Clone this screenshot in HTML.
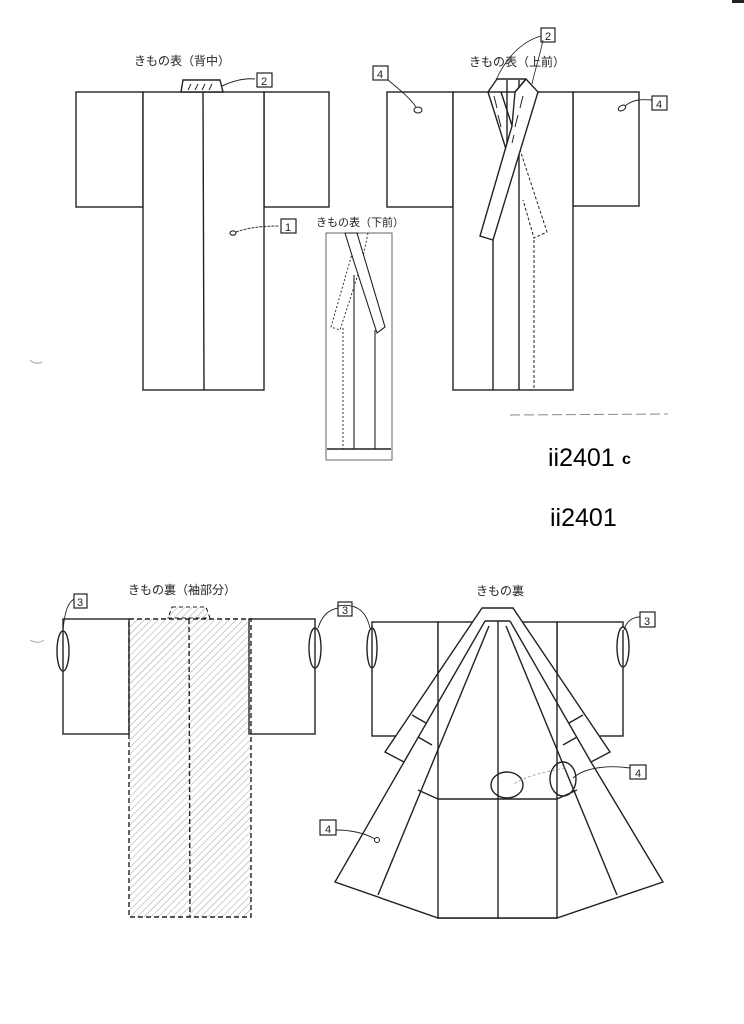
<!DOCTYPE html>
<html><head><meta charset="utf-8"><style>
html,body{margin:0;padding:0;background:#fff;}
svg{display:block;}
text{font-family:"Liberation Sans","Noto Sans CJK JP",sans-serif;fill:#222;}
</style></head><body>
<svg width="744" height="1024" viewBox="0 0 744 1024" xmlns="http://www.w3.org/2000/svg">
<defs>
<pattern id="h" width="5" height="5" patternUnits="userSpaceOnUse" patternTransform="rotate(45)">
<line x1="0" y1="0" x2="0" y2="5" stroke="#888" stroke-width="0.8"/>
</pattern>
</defs>
<g fill="none" stroke="#222" stroke-width="1.4">
<!-- Fig1 back -->
<rect x="76" y="92" width="67" height="115" fill="#fff"/>
<rect x="264" y="92" width="65" height="115" fill="#fff"/>
<rect x="143" y="92" width="121" height="298" fill="#fff"/>
<line x1="203" y1="92" x2="204" y2="390"/>
<polygon points="183,80 220,80 223,92 181,92" fill="#fff"/>
<path d="M188,90 l3,-6 M195,90 l3,-6 M202,90 l3,-6 M209,90 l3,-6" stroke-width="1"/>
<path d="M222,86 C235,80 245,78 255,79" stroke-width="1"/>
<rect x="257" y="73" width="15" height="14" stroke-width="1.2"/>
<ellipse cx="233" cy="233" rx="3" ry="2.2" stroke-width="1.1"/>
<path d="M236,232 C250,227 265,226 279,226" stroke-width="0.9" stroke-dasharray="3,1"/>
<rect x="281" y="219" width="15" height="14" stroke-width="1.2"/>

<!-- Fig2 front -->
<rect x="387" y="92" width="66" height="115" fill="#fff"/>
<rect x="573" y="92" width="66" height="114" fill="#fff"/>
<rect x="453" y="92" width="120" height="298" fill="#fff"/>
<line x1="507" y1="80" x2="507" y2="150"/>
<line x1="519" y1="80" x2="519" y2="390"/>
<line x1="493" y1="240" x2="493" y2="390"/>
<line x1="534" y1="240" x2="534" y2="390" stroke-dasharray="3,2" stroke-width="1"/>
<line x1="497" y1="79" x2="526" y2="79"/>
<path d="M501,92 L547,232 L534,238 L523,200" stroke-dasharray="3,2" stroke-width="1"/>
<path d="M488,92 L497,79 M488,92 L511,165 M501,92 L520,150"/>
<polygon points="526,79 538,92 493,240 480,236 512,126 515,92" fill="#fff"/>
<line x1="526" y1="79" x2="515" y2="92"/>
<path d="M523,96 l-3,12 M518,115 l-3,12 M514,135 l-2,8" stroke-width="1"/>
<path d="M494,96 l3,12 M498,115 l3,12" stroke-width="1"/>
<rect x="541" y="28" width="14" height="14" stroke-width="1.2"/>
<path d="M541,36 C520,42 505,60 496,80 M543,40 C540,55 535,70 532,84" stroke-width="0.8"/>
<rect x="373" y="66" width="15" height="14" stroke-width="1.2"/>
<path d="M388,80 C400,90 410,98 416,107" stroke-width="0.9"/>
<ellipse cx="418" cy="110" rx="4" ry="3" stroke-width="1.1"/>
<rect x="652" y="96" width="15" height="14" stroke-width="1.2"/>
<path d="M625,106 C632,100 640,99 652,100" stroke-width="0.9"/>
<ellipse cx="622" cy="108" rx="4" ry="2.5" stroke-width="1.1" transform="rotate(-30 622 108)"/>

<!-- Fig3 small -->
<rect x="326" y="233" width="66" height="227" stroke="#666" stroke-width="1"/>
<line x1="327" y1="449" x2="391" y2="449"/>
<line x1="354" y1="275" x2="354" y2="449" stroke-width="1.1"/>
<line x1="375" y1="330" x2="375" y2="449" stroke-width="1.1"/>
<line x1="343" y1="328" x2="343" y2="449" stroke-dasharray="2,2" stroke-width="0.9"/>
<path d="M358,233 L331,327 L340,330 L362,262 M368,233 L362,262" stroke-dasharray="2,2" stroke-width="0.9"/>
<polygon points="345,233 357,233 385,327 377,333 354,262" fill="#fff" stroke-width="1.1"/>

<!-- Fig4 back lining -->
<rect x="63" y="619" width="66" height="115"/>
<rect x="249" y="619" width="66" height="115"/>
<rect x="129" y="619" width="122" height="298" fill="url(#h)" stroke-dasharray="5,3"/>
<line x1="189" y1="619" x2="190" y2="917" stroke-dasharray="5,3"/>
<polygon points="172,607 206,607 210,618 168,618" fill="url(#h)" stroke-dasharray="4,3" stroke-width="1.1"/>
<ellipse cx="63" cy="651" rx="6" ry="20" fill="#fff"/>
<ellipse cx="315" cy="648" rx="6" ry="20" fill="#fff"/>
<line x1="63" y1="631" x2="63" y2="670"/>
<line x1="315" y1="628" x2="315" y2="667"/>
<rect x="74" y="594" width="13" height="14" stroke-width="1.2"/>
<path d="M74,599 C68,603 65,610 63,630" stroke-width="0.9"/>
<rect x="338" y="602" width="14" height="14" stroke-width="1.2"/>
<path d="M338,608 C328,610 322,616 318,628" stroke-width="0.9"/>
<path d="M30,640 C36,643 40,643 44,640" stroke="#aaa" stroke-width="1"/>
<path d="M30,360 C34,364 38,364 42,362" stroke="#aaa" stroke-width="1"/>

<!-- Fig5 lining -->
<rect x="372" y="622" width="66" height="114"/>
<rect x="557" y="622" width="66" height="114"/>
<rect x="438" y="622" width="119" height="296" fill="#fff"/>
<polygon points="482,608 385,752 404,762 335,882 438,918 557,918 663,882 591,762 610,752 513,608" fill="#fff"/>
<line x1="485" y1="621" x2="510" y2="621"/>
<line x1="485" y1="621" x2="404" y2="762"/>
<line x1="510" y1="621" x2="591" y2="762"/>
<line x1="489" y1="626" x2="378" y2="895"/>
<line x1="506" y1="626" x2="617" y2="895"/>
<line x1="438" y1="673" x2="438" y2="918"/>
<line x1="557" y1="673" x2="557" y2="918"/>
<line x1="498" y1="621" x2="498" y2="918"/>
<line x1="438" y1="799" x2="557" y2="799"/>
<line x1="418" y1="790" x2="438" y2="799"/>
<line x1="557" y1="799" x2="577" y2="790"/>
<line x1="412" y1="715" x2="426" y2="723"/>
<line x1="418" y1="737" x2="432" y2="745"/>
<line x1="583" y1="715" x2="569" y2="723"/>
<line x1="577" y1="737" x2="563" y2="745"/>
<ellipse cx="372" cy="648" rx="5" ry="20" fill="#fff"/>
<line x1="372" y1="628" x2="372" y2="668"/>
<ellipse cx="623" cy="647" rx="6" ry="20" fill="#fff"/>
<line x1="623" y1="630" x2="623" y2="666"/>
<rect x="640" y="612" width="15" height="15" stroke-width="1.2"/>
<path d="M640,617 C632,617 626,622 624,630" stroke-width="0.9"/>
<path d="M338,606 C355,603 366,610 370,628" stroke-width="0.9"/>
<ellipse cx="507" cy="785" rx="16" ry="13"/>
<ellipse cx="563" cy="779" rx="13" ry="17"/>
<rect x="630" y="765" width="16" height="14" stroke-width="1.2"/>
<path d="M630,768 C610,765 585,767 573,778" stroke-width="0.9"/>
<path d="M565,768 C545,772 525,776 514,784" stroke="#999" stroke-width="0.8" stroke-dasharray="3,2"/>
<rect x="320" y="820" width="16" height="15" stroke-width="1.2"/>
<path d="M336,830 C350,830 365,833 375,839" stroke-width="0.9"/>
<circle cx="377" cy="840" r="2.5" stroke-width="1"/>

<line x1="510" y1="415" x2="668" y2="414" stroke="#888" stroke-width="1" stroke-dasharray="10,4"/>
</g>
<g font-size="11">
<text x="264" y="85" text-anchor="middle">2</text>
<text x="288" y="231" text-anchor="middle">1</text>
<text x="548" y="40" text-anchor="middle">2</text>
<text x="380" y="78" text-anchor="middle">4</text>
<text x="659" y="108" text-anchor="middle">4</text>
<text x="80" y="606" text-anchor="middle">3</text>
<text x="345" y="614" text-anchor="middle">3</text>
<text x="647" y="625" text-anchor="middle">3</text>
<text x="638" y="777" text-anchor="middle">4</text>
<text x="328" y="833" text-anchor="middle">4</text>
</g>
<g font-size="12">
<text x="182" y="65" text-anchor="middle">きもの表（背中）</text>
<text x="517" y="66" text-anchor="middle">きもの表（上前）</text>
<text x="360" y="226" text-anchor="middle" font-size="11">きもの表（下前）</text>
<text x="182" y="594" text-anchor="middle">きもの裏（袖部分）</text>
<text x="500" y="595" text-anchor="middle">きもの裏</text>
</g>
<text x="548" y="466" font-size="25" style="fill:#000">ii2401</text>
<text x="622" y="464" font-size="16" font-weight="bold" style="fill:#000">c</text>
<text x="550" y="526" font-size="25" style="fill:#000">ii2401</text>
<rect x="732" y="0" width="12" height="3" fill="#222"/>
</svg>
</body></html>
